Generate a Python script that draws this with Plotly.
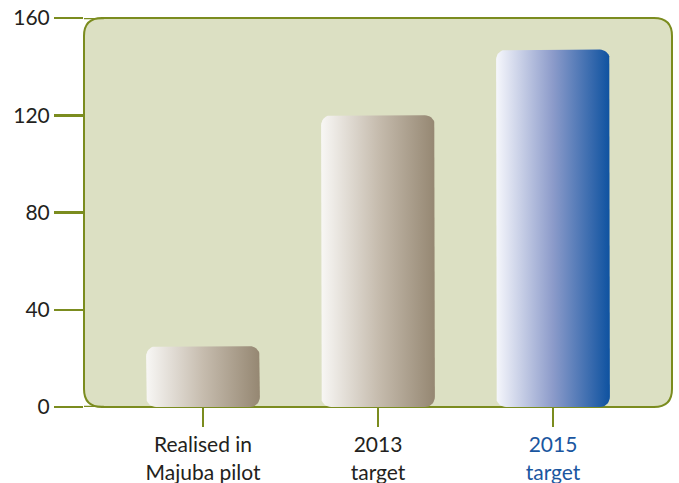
import numpy as np
import plotly.graph_objects as go

categories = ["Realised in<br>Majuba pilot", "2013<br>target", "2015<br>target"]
values = [25, 120, 147]
label_colors = ["#231f20", "#231f20", "#1a56a0"]
y_ticks = [0, 40, 80, 120, 160]

OLIVE = "#7b8c1f"
BG = "#dce0c3"
beige_scale = [[0, "#f8f7f5"], [0.5, "#c6bcae"], [1, "#958772"]]
blue_scale = [[0, "#f6f7fc"], [0.5, "#8c9bca"], [1, "#0e52a0"]]
scales = [beige_scale, beige_scale, blue_scale]

W, H = 679, 483
ml, mr, mt, mb = 84, 7, 18, 76
pw, ph = W - ml - mr, H - mt - mb
xr = [-0.68, 2.68]
yr = [0, 160]
px_x = pw / (xr[1] - xr[0])
px_y = ph / (yr[1] - yr[0])

bar_w = 0.65
rad_px = 10
rx = rad_px / px_x
ry = rad_px / px_y


def rounded_bar(c, v):
    x0, x1 = c - bar_w / 2, c + bar_w / 2
    y0, y1 = 0, v
    t = np.linspace(0, np.pi / 2, 10)
    xs, ys = [], []
    xs += list(x1 - rx + rx * np.sin(t)); ys += list(y0 + ry - ry * np.cos(t))
    xs += list(x1 - rx + rx * np.cos(t)); ys += list(y1 - ry + ry * np.sin(t))
    xs += list(x0 + rx - rx * np.sin(t)); ys += list(y1 - ry + ry * np.cos(t))
    xs += list(x0 + rx - rx * np.cos(t)); ys += list(y0 + ry - ry * np.sin(t))
    xs.append(xs[0]); ys.append(ys[0])
    return xs, ys


fig = go.Figure()
for i, v in enumerate(values):
    xs, ys = rounded_bar(i, v)
    fig.add_trace(go.Scatter(
        x=xs, y=ys, mode="lines", fill="toself",
        line=dict(width=0, color="rgba(0,0,0,0)"),
        fillgradient=dict(type="horizontal", colorscale=scales[i]),
        hoverinfo="skip", showlegend=False,
    ))

prx, pry = 18 / pw, 18 / ph
path = (f"M {prx},0 L {1-prx},0 Q 1,0 1,{pry} L 1,{1-pry} Q 1,1 {1-prx},1 "
        f"L {prx},1 Q 0,1 0,{1-pry} L 0,{pry} Q 0,0 {prx},0 Z")
shapes = [dict(type="path", path=path, xref="paper", yref="paper",
               fillcolor=BG, line=dict(color=OLIVE, width=2), layer="below")]
for yv in (yr[0], yr[1]):
    shapes.append(dict(type="line", xref="paper", yref="y", x0=0, x1=prx * 1.1,
                       y0=yv, y1=yv, line=dict(color=OLIVE, width=2.5), layer="above"))

ticktext = [f'<span style="color:{c}">{t}</span>' for t, c in zip(categories, label_colors)]

fig.update_layout(
    width=W, height=H,
    margin=dict(l=ml, r=mr, t=mt, b=mb, autoexpand=False),
    paper_bgcolor="white", plot_bgcolor="rgba(0,0,0,0)",
    font=dict(family="Lato, sans-serif", size=21, color="#231f20"),
    shapes=shapes,
    xaxis=dict(range=xr, showgrid=False, zeroline=False, showline=False,
               automargin=False,
               tickvals=[0, 1, 2], ticktext=ticktext,
               ticks="outside", ticklen=19, tickwidth=2.5, tickcolor=OLIVE,
               tickfont=dict(size=21)),
    yaxis=dict(range=yr, showgrid=False, zeroline=False, showline=False,
               automargin=False,
               tickvals=y_ticks, ticks="outside", ticklen=29, tickwidth=2.5,
               tickcolor=OLIVE, tickfont=dict(size=21)),
)

fig.write_html(
    "out.html",
    config={"displayModeBar": False, "staticPlot": True},
    post_script="document.body.style.margin='0';document.body.style.overflow='hidden';",
)
